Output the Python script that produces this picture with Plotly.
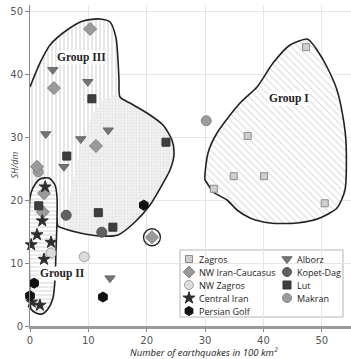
import plotly.graph_objects as go

# ---------------- data ----------------
series_names = ["Zagros", "NW Iran-Caucasus", "NW Zagros", "Central Iran", "Persian Golf",
                "Alborz", "Kopet-Dag", "Lut", "Makran"]

zagros_x = [47.3, 37.3, 34.9, 40.1, 50.5, 31.5]
zagros_y = [44.3, 30.2, 23.8, 23.8, 19.5, 21.8]

nwic_x = [10.3, 4.1, 11.3, 1.2, 2.4, 2.2, 20.9]
nwic_y = [47.2, 37.8, 28.6, 25.3, 21.1, 18.1, 14.1]

nwz_x = [3.6, 9.3]
nwz_y = [11.6, 11.0]

ci_x = [2.6, 2.1, 1.2, 0.2, 3.6, 2.4, 0.3, 1.7]
ci_y = [22.1, 16.7, 14.5, 12.9, 13.3, 10.6, 3.8, 3.3]

pg_x = [0.7, 0.0, 12.5, 19.5]
pg_y = [6.8, 4.8, 4.6, 19.2]

alb_x = [3.9, 9.9, 2.7, 8.7, 13.4, 5.8, 13.7]
alb_y = [40.7, 38.8, 30.5, 29.7, 31.1, 25.3, 7.6]

kd_x = [6.2, 12.3]
kd_y = [17.6, 14.9]

lut_x = [10.6, 6.3, 23.3, 1.5, 11.7, 14.2]
lut_y = [36.1, 27.0, 29.2, 19.1, 18.0, 15.7]

mak_x = [30.2, 1.4]
mak_y = [32.6, 24.5]

# group outlines (data units)
g3_x = [0, 1.71, 3.43, 6.34, 9.08, 11.99, 13.71, 14.74, 15.08, 15.25, 15.42, 17.13, 20.05,
        22.79, 24.33, 24.67, 23.99, 22.62, 20.56, 17.99, 15.08, 11.99, 8.57, 6.0, 4.80, 4.63]
g3_y = [37.97, 41.79, 44.65, 47.03, 48.46, 48.78, 48.30, 45.76, 42.26, 39.09, 36.38, 35.43, 33.84,
        31.93, 29.55, 27.17, 24.79, 22.40, 19.22, 16.52, 14.46, 14.30, 14.78, 15.41, 15.89, 17.16]

blob_x = [15.42, 17.13, 20.05, 22.79, 24.33, 24.67, 23.99, 22.62, 20.56, 17.99, 15.08, 11.99,
          8.57, 6.5, 6.2, 7.2, 8.8, 10.6, 12.5, 14.5]
blob_y = [36.38, 35.43, 33.84, 31.93, 29.55, 27.17, 24.79, 22.40, 19.22, 16.52, 14.46, 14.30,
          14.78, 15.3, 17.5, 22.5, 28.5, 33.5, 35.9, 36.7]

g2_x = [0, 0.17, 1.03, 2.06, 3.08, 3.94, 4.28, 4.46, 4.63, 4.63, 4.28, 3.26, 1.71, 0.51, 0, 0]
g2_y = [4.13, 2.70, 2.07, 1.91, 2.70, 4.45, 7.31, 12.07, 16.84, 20.50, 22.40, 23.51, 23.36, 21.93, 20.34, 4.13]

g1_x = [47.46, 44.55, 41.64, 38.9, 35.98, 32.04, 30.5, 29.99, 30.33, 31.36, 33.76, 35.47, 37.7,
        41.12, 45.75, 49.69, 52.6, 53.97, 54.15, 53.63, 52.6, 50.89, 49.18, 47.98, 47.46]
g1_y = [45.60, 44.65, 41.79, 37.97, 35.43, 30.66, 27.49, 23.2, 22.72, 21.29, 20.02, 18.43, 17.16,
        16.36, 16.36, 17.16, 18.75, 21.61, 29.07, 33.21, 37.5, 41.15, 43.85, 45.28, 45.60]

x_ticks = [0, 10, 20, 30, 40, 50]
y_ticks = [0, 10, 20, 30, 40, 50]

# ---------------- layout constants ----------------
W, H = 351, 359
ML, MR, MT, MB = 30, 0, 5, 33
PW, PH = W - ML - MR, H - MT - MB


def px(xp):
    return (xp - ML) / PW


def py(yp):
    return (H - MB - yp) / PH


# ---------------- figure ----------------
fig = go.Figure()

# Group III vertical hatch
g3_fill_x = g3_x + g2_x[9:15]
g3_fill_y = g3_y + g2_y[9:15]
fig.add_trace(go.Scatter(x=g3_fill_x, y=g3_fill_y, mode="none", fill="toself",
                         fillcolor="white",
                         fillpattern=dict(shape="|", fgcolor="#a0a0a0", bgcolor="white", size=4, solidity=0.25),
                         hoverinfo="skip", showlegend=False))
# light stippled blob
fig.add_trace(go.Scatter(x=blob_x, y=blob_y, mode="none", fill="toself",
                         fillpattern=dict(shape=".", fgcolor="#d8d8d8", bgcolor="rgba(240,240,240,0.85)", size=3, solidity=0.3),
                         hoverinfo="skip", showlegend=False))
fig.add_trace(go.Scatter(x=g3_x, y=g3_y, mode="lines", line=dict(color="#222", width=1.6, shape="spline", smoothing=0.7),
                         hoverinfo="skip", showlegend=False))
# Group II
fig.add_trace(go.Scatter(x=g2_x, y=g2_y, mode="lines", fill="toself",
                         line=dict(color="#222", width=1.6, shape="spline", smoothing=0.7),
                         fillpattern=dict(shape="-", fgcolor="#a8a8a8", bgcolor="white", size=4, solidity=0.25),
                         hoverinfo="skip", showlegend=False))
# Group I
fig.add_trace(go.Scatter(x=g1_x, y=g1_y, mode="lines", fill="toself",
                         line=dict(color="#222", width=1.6, shape="spline", smoothing=0.7),
                         fillpattern=dict(shape="\\", fgcolor="#b0b0b0", bgcolor="white", size=5, solidity=0.2),
                         hoverinfo="skip", showlegend=False))

styles = [
    ("square", 7, "#cfcfcf", "#8c8c8c"),
    ("diamond", 10, "#9a9a9a", "#808080"),
    ("circle", 10, "#dcdcdc", "#a0a0a0"),
    ("star", 9, "#2e2e2e", "#2e2e2e"),
    ("hexagon", 10, "#111111", "#111111"),
    ("triangle-down", 9, "#767676", "#666666"),
    ("circle", 10, "#616161", "#555555"),
    ("square", 8, "#3e3e3e", "#333333"),
    ("circle", 10, "#9c9c9c", "#888888"),
]
xs = [zagros_x, nwic_x, nwz_x, ci_x, pg_x, alb_x, kd_x, lut_x, mak_x]
ys = [zagros_y, nwic_y, nwz_y, ci_y, pg_y, alb_y, kd_y, lut_y, mak_y]
draw_order = [2, 8, 0, 1, 5, 7, 6, 3, 4]
for i in draw_order:
    sym, sz, fc, lc = styles[i]
    fig.add_trace(go.Scatter(x=xs[i], y=ys[i], mode="markers", name=series_names[i],
                             marker=dict(symbol=sym, size=sz, color=fc, line=dict(color=lc, width=1)),
                             cliponaxis=False, showlegend=False))

# circle around the isolated diamond
cx, cy = nwic_x[6], nwic_y[6]
fig.add_shape(type="circle", xref="x", yref="y", x0=cx - 1.45, x1=cx + 1.45, y0=cy - 1.35, y1=cy + 1.35,
              line=dict(color="#222", width=1.3))

# group labels
for txt, gx, gy in [("Group III", 8.9, 42.7), ("Group I", 44.4, 36.1), ("Group II", 5.5, 8.3)]:
    fig.add_annotation(x=gx, y=gy, xref="x", yref="y", text="<b>" + txt + "</b>", showarrow=False,
                       font=dict(family="Liberation Serif", size=11.5, color="#222"),
                       bgcolor="white", borderpad=0)

# ---------- manual legend ----------
fig.add_shape(type="rect", xref="paper", yref="paper", x0=px(180), x1=px(343), y0=py(317), y1=py(250),
              line=dict(color="#b5b5b5", width=1), fillcolor="white", layer="between")
col_x = [189, 287]
row_y0, row_dy = 259, 13
for k, name in enumerate(series_names):
    col = 0 if k < 5 else 1
    row = k if k < 5 else k - 5
    sym, sz, fc, lc = styles[k]
    fig.add_trace(go.Scatter(x=[px(col_x[col])], y=[py(row_y0 + row * row_dy)], xaxis="x2", yaxis="y2",
                             mode="markers", marker=dict(symbol=sym, size=min(sz, 9), color=fc,
                                                         line=dict(color=lc, width=1)),
                             hoverinfo="skip", showlegend=False, cliponaxis=False))
    fig.add_annotation(x=px(col_x[col] + 8), y=py(row_y0 + row * row_dy), xref="paper", yref="paper", text=name,
                       showarrow=False, xanchor="left", yanchor="middle",
                       font=dict(family="Open Sans", size=9, color="#222"))

fig.add_annotation(x=px(204), y=py(353), xref="paper", yref="paper", yanchor="middle",
                   text="<i>Number of earthquakes in 100 km²</i>",
                   showarrow=False, font=dict(family="Open Sans", size=9.5, color="#222"))
fig.add_annotation(x=px(5), y=py(165), xref="paper", yref="paper", text="<i>SH/dm</i>", textangle=-90,
                   showarrow=False, font=dict(family="Open Sans", size=9, color="#444"))

fig.update_layout(
    width=W, height=H,
    margin=dict(l=ML, r=MR, t=MT, b=MB),
    paper_bgcolor="white", plot_bgcolor="white",
    showlegend=False,
    xaxis=dict(range=[0, 55], tickvals=x_ticks, showgrid=True, gridcolor="#e6e6e6", gridwidth=1,
               zeroline=False, showline=True, linecolor="#9a9a9a", linewidth=3,
               ticks="outside", ticklen=3, tickcolor="#888", ticklabelstandoff=0,
               tickfont=dict(family="DejaVu Sans", size=10, color="#555")),
    yaxis=dict(range=[0, 51], tickvals=y_ticks, showgrid=True, gridcolor="#e6e6e6", gridwidth=1,
               zeroline=False, showline=True, linecolor="#8a8a8a", linewidth=1,
               ticks="outside", ticklen=4, tickcolor="#888",
               tickfont=dict(family="DejaVu Sans", size=10, color="#555")),
    xaxis2=dict(overlaying="x", anchor="y2", range=[0, 1], visible=False),
    yaxis2=dict(overlaying="y", anchor="x2", range=[0, 1], visible=False),
)

fig.write_html("out.html")
